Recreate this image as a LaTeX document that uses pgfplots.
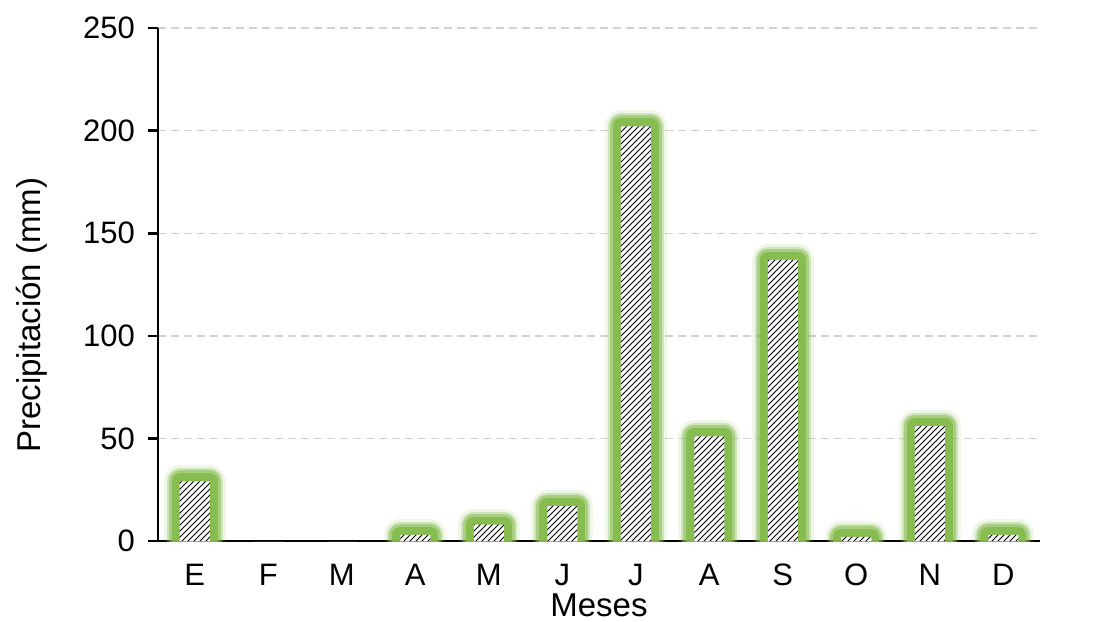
\documentclass[border=0pt]{standalone}
\usepackage{fontspec}
\setmainfont{Liberation Sans}
\usepackage{pgfplots}
\pgfplotsset{compat=1.18}
\usetikzlibrary{patterns}

\definecolor{glow}{RGB}{130,186,74}
\definecolor{gridgray}{RGB}{210,210,210}

% monthly precipitation (mm)
\pgfplotstableread{
x y
0 29
1 0
2 0
3 3
4 8
5 17
6 202
7 51
8 137
9 2
10 56
11 3
}\precip
% same values without the empty months, for the glow
\pgfplotstableread{
x y
0 29
3 3
4 8
5 17
6 202
7 51
8 137
9 2
10 56
11 3
}\precipglow

\begin{document}
\begin{tikzpicture}
  \path[use as bounding box] (-79pt,-40pt) rectangle (476.5pt,270.5pt);
  \begin{axis}[
      at={(0,0)}, anchor=south west,
      scale only axis, width=441pt, height=256.5pt,
      font=\fontsize{15.5}{18}\selectfont,
      /pgf/number format/assume math mode=true,
      xmin=-0.5, xmax=11.5, ymin=0, ymax=250,
      xtick={0,...,11}, xticklabels={E,F,M,A,M,J,J,A,S,O,N,D},
      ytick={0,50,...,250},
      axis x line=bottom, axis y line=left,
      axis line style={line width=1.3pt, -},
      x tick style={draw=none},
      y tick style={black, line width=1.3pt},
      major tick length=5pt, tick align=outside,
      xticklabel style={yshift=-3pt},
      yticklabel style={xshift=-3pt},
      ymajorgrids, grid style={gridgray, line width=0.7pt, dash pattern=on 4pt off 2.5pt},
      xlabel={Meses}, ylabel={Precipitación (mm)},
      label style={font=\fontsize{16.5}{19}\selectfont},
      xlabel style={at={(axis description cs:0.5,0)}, yshift=-23pt, anchor=north},
      ylabel style={at={(axis description cs:0,0.44)}, anchor=center, yshift=63pt},
      ybar, bar width=15pt, bar shift=0pt,
    ]
    \addplot[draw=glow, draw opacity=0.12, line width=16pt, line join=round, fill=none] table {\precipglow};
    \addplot[draw=glow, draw opacity=0.3, line width=13pt, line join=round, fill=none] table {\precipglow};
    \addplot[draw=glow, draw opacity=0.5, line width=11pt, line join=round, fill=none] table {\precipglow};
    \addplot[draw=glow, draw opacity=0.9, line width=8pt, line join=round, fill=none] table {\precipglow};
    \addplot[draw=none, fill=white, postaction={pattern=north east lines}] table {\precip};
  \end{axis}
\end{tikzpicture}
\end{document}
